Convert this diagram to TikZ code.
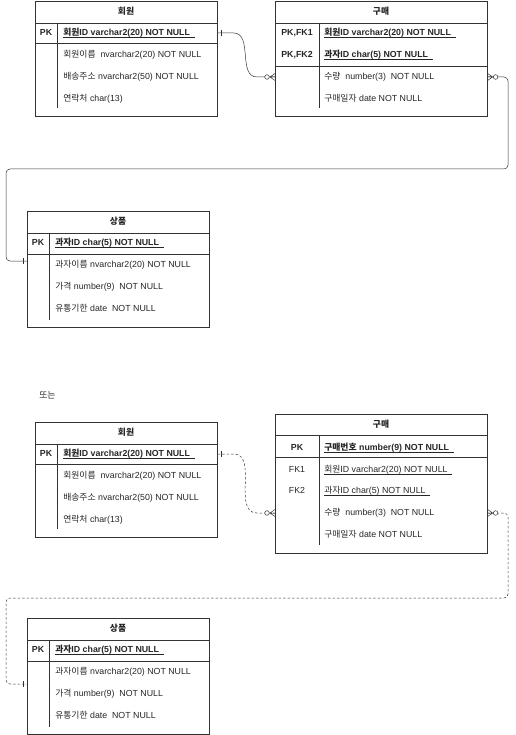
\documentclass[tikz,border=0pt]{standalone}
\usepackage{fontspec}
\setmainfont{Liberation Sans}
\newfontfamily\krfont{Noto Sans CJK KR}
\newcommand\kr[1]{{\krfont #1}}
\newcommand\ukey[1]{\setbox0\hbox{#1\ \ }\rlap{\vrule height -1.1pt depth 1.7pt width \wd0}\box0}
\usetikzlibrary{calc}

\begin{document}
\begin{tikzpicture}[x=1pt,y=-1pt,line width=0.6pt,color=black!80,
  font=\fontsize{8.8}{10}\selectfont,
  tbl/.style={draw,inner sep=0pt,anchor=north west},
  row/.style={anchor=west,inner sep=0pt,text height=6.5pt,text depth=1.5pt,text=black!85},
  col/.style={inner sep=0pt,text height=6.5pt,text depth=1.5pt,text=black!85},
  ttl/.style={col,font=\fontsize{8.8}{10}\selectfont\bfseries},
  rel/.style={line width=0.5pt},
  dot/.style={rel,dash pattern=on 2.5pt off 2pt},
  one/.pic={\draw[line width=0.5pt] (4,-3) -- (4,3);},
  many/.pic={\draw[line width=0.5pt] (0,-3.5) -- (-5,0) -- (0,3.5) (-5,0) -- (0,0);
             \draw[line width=0.5pt,fill=white] (-8,0) circle (2.3);}]
\useasboundingbox (0,0) rectangle (515,735);

\foreach \n/\dy in {1/0,2/421}{
\begin{scope}[shift={(0,\dy)}]
\node[tbl,minimum width=182,minimum height=115] (m\n) at (35,1) {};
\draw (35,23) -- (217,23) (35,43) -- (217,43) (57,23) -- (57,108);
\node[ttl] (mt\n) at (126,12) {\kr{회원}};
\node[col,font=\fontsize{8.8}{10}\selectfont\bfseries] (mp\n) at (46,33) {PK};
\node[row] (mk\n) at (63,33) {\textbf{\ukey{\kr{회원}ID varchar2(20) NOT NULL}}};
\node[row] (ma\n) at (63,55) {\kr{회원이름}\ \ nvarchar2(20) NOT NULL};
\node[row] (mb\n) at (63,77) {\kr{배송주소} nvarchar2(50) NOT NULL};
\node[row] (mc\n) at (63,99) {\kr{연락처} char(13)};
\end{scope}}

\foreach \n/\dy in {1/0,2/407}{
\begin{scope}[shift={(0,\dy)}]
\node[tbl,minimum width=182,minimum height=116] (s\n) at (27,211) {};
\draw (27,233) -- (209,233) (27,254) -- (209,254) (49,233) -- (49,320);
\node[ttl] (st\n) at (118,222) {\kr{상품}};
\node[col,font=\fontsize{8.8}{10}\selectfont\bfseries] (sp\n) at (38,243) {PK};
\node[row] (sk\n) at (55,243) {\textbf{\ukey{\kr{과자}ID char(5) NOT NULL}}};
\node[row] (sa\n) at (55,265) {\kr{과자이름} nvarchar2(20) NOT NULL};
\node[row] (sb\n) at (55,287) {\kr{가격} number(9)\ \ NOT NULL};
\node[row] (sc\n) at (55,309) {\kr{유통기한} date\ \ NOT NULL};
\end{scope}}

\node[tbl,minimum width=212,minimum height=115] (g1) at (275,1) {};
\draw (275,23) -- (487,23) (275,66) -- (487,66) (319,23) -- (319,108);
\node[ttl] (gt1) at (381,12) {\kr{구매}};
\node[col,font=\fontsize{8.8}{10}\selectfont\bfseries] (gp1) at (297,33) {PK,FK1};
\node[col,font=\fontsize{8.8}{10}\selectfont\bfseries] (gq1) at (297,55) {PK,FK2};
\node[row] (gk1) at (324,33) {\textbf{\ukey{\kr{회원}ID varchar2(20) NOT NULL}}};
\node[row] (gl1) at (324,55) {\textbf{\ukey{\kr{과자}ID char(5) NOT NULL}}};
\node[row] (gc1) at (324,77) {\kr{수량}\ \ number(3)\ \ NOT NULL};
\node[row] (gd1) at (324,99) {\kr{구매일자} date NOT NULL};

\node[tbl,minimum width=212,minimum height=139] (g2) at (275,414) {};
\draw (275,435) -- (487,435) (275,457) -- (487,457) (319,435) -- (319,545);
\node[ttl] (gt2) at (381,424.5) {\kr{구매}};
\node[col,font=\fontsize{8.8}{10}\selectfont\bfseries] (gp2) at (297,448) {PK};
\node[col] (gq2) at (297,470) {FK1};
\node[col] (gr2) at (297,491) {FK2};
\node[row] (gk2) at (324,448) {\textbf{\ukey{\kr{구매번호} number(9) NOT NULL}}};
\node[row] (gl2) at (324,470) {\ukey{\kr{회원}ID varchar2(20) NOT NULL}};
\node[row] (gm2) at (324,491) {\ukey{\kr{과자}ID char(5) NOT NULL}};
\node[row] (gc2) at (324,513) {\kr{수량}\ \ number(3)\ \ NOT NULL};
\node[row] (gd2) at (324,535) {\kr{구매일자} date NOT NULL};

\node[row] (alt) at (39,396) {\kr{또는}};

\coordinate (a1) at (m1.east |- mk1);
\coordinate (b1) at (g1.west |- gc1);
\coordinate (c1) at (g1.east |- gc1);
\coordinate (d1) at (s1.west |- 0,261);
\coordinate (a2) at (m2.east |- mk2);
\coordinate (b2) at (g2.west |- gc2);
\coordinate (c2) at (g2.east |- gc2);
\coordinate (d2) at (s2.west |- 0,684);

\draw[rel] (a1) -- ++(16,0) to[out=0,in=180] ([xshift=-18pt]b1) -- (b1);
\draw[rel,rounded corners=4pt] (c1) -| (508,169) -| (6,261) -- (d1);
\draw[dot] (a2) -- ++(16,0) to[out=0,in=180] ([xshift=-18pt]b2) -- (b2);
\draw[dot,rounded corners=4pt] (c2) -| (508,598) -| (6,684) -- (d2);

\path (a1) pic{one} (b1) pic{many} (c1) pic[xscale=-1]{many} (d1) pic[xscale=-1]{one};
\path (a2) pic{one} (b2) pic{many} (c2) pic[xscale=-1]{many} (d2) pic[xscale=-1]{one};
\end{tikzpicture}
\end{document}
